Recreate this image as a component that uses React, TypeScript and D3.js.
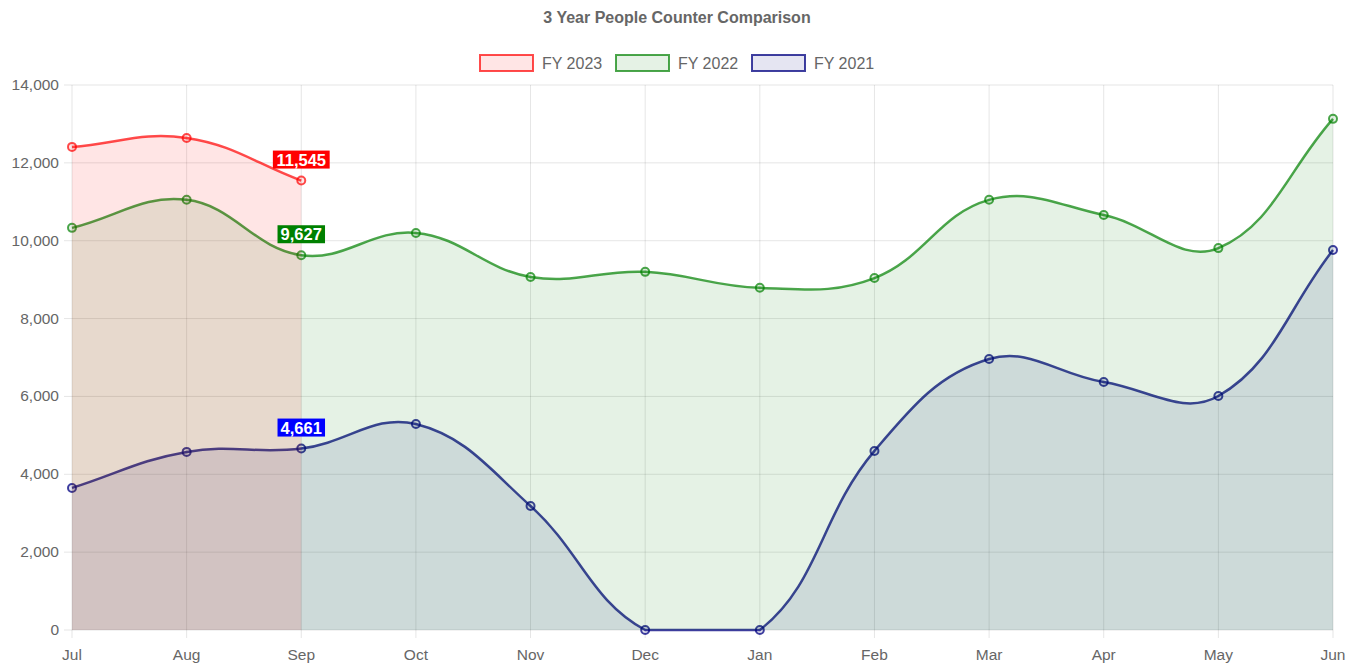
import React from 'react'
import * as d3 from 'd3'

const months = ['Jul', 'Aug', 'Sep', 'Oct', 'Nov', 'Dec', 'Jan', 'Feb', 'Mar', 'Apr', 'May', 'Jun']
const fy2023 = [12410, 12640, 11545]
const fy2022 = [10330, 11050, 9627, 10200, 9070, 9200, 8790, 9040, 11050, 10660, 9810, 13130]
const fy2021 = [3650, 4575, 4661, 5290, 3185, 0, 0, 4600, 6960, 6370, 6010, 9760]
const yTicks = [0, 2000, 4000, 6000, 8000, 10000, 12000, 14000]

const series = [
  { name: 'FY 2023', values: fy2023, line: 'rgba(255,0,0,0.7)', fill: 'rgba(255,0,0,0.1)', tag: '#ff0000', labelAt: 2 },
  { name: 'FY 2022', values: fy2022, line: 'rgba(0,128,0,0.7)', fill: 'rgba(0,128,0,0.1)', tag: '#008000', labelAt: 2 },
  { name: 'FY 2021', values: fy2021, line: 'rgba(0,0,128,0.75)', fill: 'rgba(0,0,128,0.1)', tag: '#0000ff', labelAt: 2 },
]

const W = 1354
const H = 664
const area = { left: 72, right: 1333, top: 85, bottom: 630 }
const FONT = "Arial, 'Liberation Sans', Helvetica, sans-serif"
const fmt = d3.format(',')

type P = { x: number; y: number }

// chart.js style bezier, tension 0.4, control points capped to the chart area
function splinePath(pts: P[], t = 0.4) {
  const cap = (p: P) => ({
    x: Math.max(area.left, Math.min(area.right, p.x)),
    y: Math.max(area.top, Math.min(area.bottom, p.y)),
  })
  const cps = pts.map((cur, i) => {
    const prev = pts[i - 1] || cur
    const next = pts[i + 1] || cur
    const d01 = Math.hypot(cur.x - prev.x, cur.y - prev.y)
    const d12 = Math.hypot(next.x - cur.x, next.y - cur.y)
    let s01 = d01 / (d01 + d12)
    let s12 = d12 / (d01 + d12)
    if (isNaN(s01)) s01 = 0
    if (isNaN(s12)) s12 = 0
    const fa = t * s01
    const fb = t * s12
    return {
      prev: cap({ x: cur.x - fa * (next.x - prev.x), y: cur.y - fa * (next.y - prev.y) }),
      next: cap({ x: cur.x + fb * (next.x - prev.x), y: cur.y + fb * (next.y - prev.y) }),
    }
  })
  let d = `M${pts[0].x},${pts[0].y}`
  for (let i = 1; i < pts.length; i++) {
    const a = cps[i - 1].next
    const b = cps[i].prev
    d += `C${a.x},${a.y},${b.x},${b.y},${pts[i].x},${pts[i].y}`
  }
  return d
}

export default function App() {
  const x = d3.scalePoint<string>().domain(months).range([area.left, area.right])
  const y = d3.scaleLinear().domain([0, 14000]).range([area.bottom, area.top])

  const legendItems = [
    { box: 479, text: 542 },
    { box: 615, text: 678 },
    { box: 751, text: 814 },
  ]

  // draw last dataset first, like chart.js
  const drawOrder = [...series].reverse()

  return (
    <svg width={W} height={H} style={{ position: 'absolute', left: 0, top: 0, display: 'block', background: '#fff' }} fontFamily={FONT}>
      <text x={W / 2 + 0} y={23} textAnchor="middle" fontSize={16} fontWeight="bold" fill="#666">
        3 Year People Counter Comparison
      </text>

      {series.map((s, i) => (
        <g key={s.name}>
          <rect x={legendItems[i].box + 1} y={55} width={53} height={16} fill={s.fill} stroke={s.line} strokeWidth={2} />
          <text x={legendItems[i].text} y={69} fontSize={16} fill="#666">{s.name}</text>
        </g>
      ))}

      {/* grid */}
      {months.map((m) => (
        <line key={m} x1={x(m)} x2={x(m)} y1={area.top} y2={area.bottom + 8} stroke="rgba(0,0,0,0.1)" />
      ))}
      {yTicks.map((v) => (
        <line key={v} x1={area.left - 8} x2={area.right} y1={y(v)} y2={y(v)} stroke="rgba(0,0,0,0.1)" />
      ))}
      {yTicks.map((v) => (
        <text key={v} x={area.left - 13} y={y(v) + 5} textAnchor="end" fontSize={15.5} fill="#666">{fmt(v)}</text>
      ))}
      {months.map((m) => (
        <text key={m} x={x(m)} y={660} textAnchor="middle" fontSize={15.5} fill="#666">{m}</text>
      ))}

      {drawOrder.map((s) => {
        const pts = s.values.map((v, i) => ({ x: x(months[i])!, y: y(v) }))
        const line = splinePath(pts)
        const fill = `${line}L${pts[pts.length - 1].x},${y(0)}L${pts[0].x},${y(0)}Z`
        return (
          <g key={s.name}>
            <path d={fill} fill={s.fill} stroke="none" />
            <path d={line} fill="none" stroke={s.line} strokeWidth={2.5} />
            {pts.map((p, i) => (
              <circle key={i} cx={p.x} cy={p.y} r={4} fill={s.fill} stroke={s.line} strokeWidth={2} />
            ))}
          </g>
        )
      })}

      {series.map((s) => {
        const v = s.values[s.labelAt]
        const cx = x(months[s.labelAt])!
        const cy = y(v) - 21
        const label = fmt(v)
        const w = label.length * 9.3 + 1
        return (
          <g key={s.name}>
            <rect x={cx - w / 2} y={cy - 9} width={w} height={18} fill={s.tag} />
            <text x={cx} y={cy + 6} textAnchor="middle" fontSize={16.5} fontWeight="bold" fill="#fff">{label}</text>
          </g>
        )
      })}
    </svg>
  )
}
